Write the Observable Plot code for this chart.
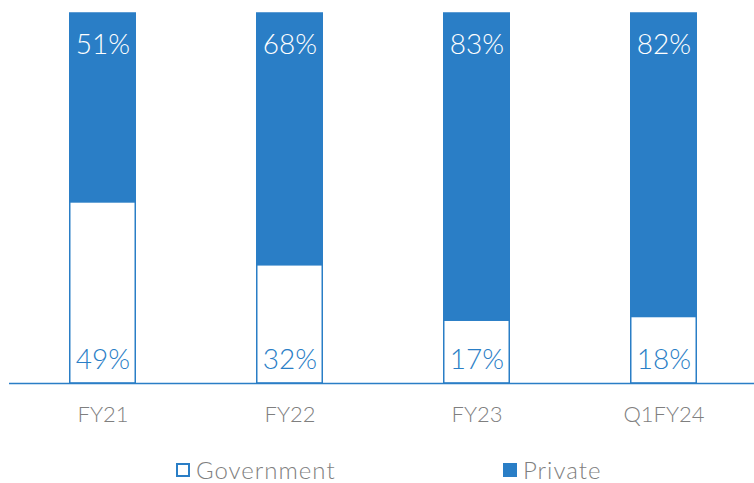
<!DOCTYPE html>
<html><head><meta charset="utf-8">
<script src="https://cdn.jsdelivr.net/npm/d3@7"></script>
<script src="https://cdn.jsdelivr.net/npm/@observablehq/plot@0.6"></script>
<style>
body{margin:0;background:#fff;font-family:Lato,"DejaVu Sans",sans-serif;overflow:hidden;}
#legend{height:48px;font-size:24px;font-weight:300;letter-spacing:1px;color:#7f7f7f;position:relative;}
.item{position:absolute;display:flex;align-items:center;top:20px;}
.sw{box-sizing:border-box;width:14px;height:14px;margin-right:6px;border:2px solid #2a7ec6;}
</style></head>
<body>
<div id="chart"></div>
<div id="legend"></div>
<script>
const categories = ["FY21","FY22","FY23","Q1FY24"];
const government = [49,32,17,18];
const privateShare = [51,68,83,82];
const seriesNames = ["Government","Private"];
const blue = "#2a7ec6";

const data = [];
categories.forEach((c,i)=>{
  data.push({cat:c, series:"Government", value:government[i]});
  data.push({cat:c, series:"Private", value:privateShare[i]});
});

const chart = Plot.plot({
  width:754, height:435,
  marginLeft:9, marginRight:0, marginTop:13, marginBottom:52,
  x:{domain:categories, range:[9,757], paddingInner:0.64, paddingOuter:0.32, label:null, axis:null},
  y:{domain:[0,100], axis:null},
  style:{fontFamily:"Lato, 'DejaVu Sans', sans-serif", fontSize:"22px", fontWeight:300, color:"#7f7f7f", background:"#fff", overflow:"visible"},
  marks:[
    Plot.barY(data, Plot.stackY({x:"cat", y:"value", order:seriesNames,
      fill:d=>d.series==="Government"?"#ffffff":blue,
      stroke:blue, strokeWidth:1.5, insetLeft:0.75, insetRight:0.75})),
    Plot.ruleY([0], {stroke:blue, strokeWidth:1.5}),
    Plot.text(categories, {x:d=>d, y:100, text:d=>privateShare[categories.indexOf(d)]+"%", dy:32, fill:"white", fontSize:28, fontWeight:300}),
    Plot.text(categories, {x:d=>d, y:0, text:d=>government[categories.indexOf(d)]+"%", dy:-23, fill:blue, fontSize:28, fontWeight:300}),
    Plot.axisX({tickSize:0, tickPadding:23, fontSize:22, fontWeight:300, fill:"#7f7f7f", label:null})
  ]
});
document.getElementById("chart").appendChild(chart);

const legend = document.getElementById("legend");
const lefts = [176, 503];
seriesNames.forEach((s,i)=>{
  const it = document.createElement("div");
  it.className="item"; it.style.left=lefts[i]+"px";
  const sw = document.createElement("span"); sw.className="sw";
  sw.style.background = i===0 ? "#fff" : blue;
  const t = document.createElement("span"); t.textContent = s;
  it.appendChild(sw); it.appendChild(t);
  legend.appendChild(it);
});
</script>
</body></html>
